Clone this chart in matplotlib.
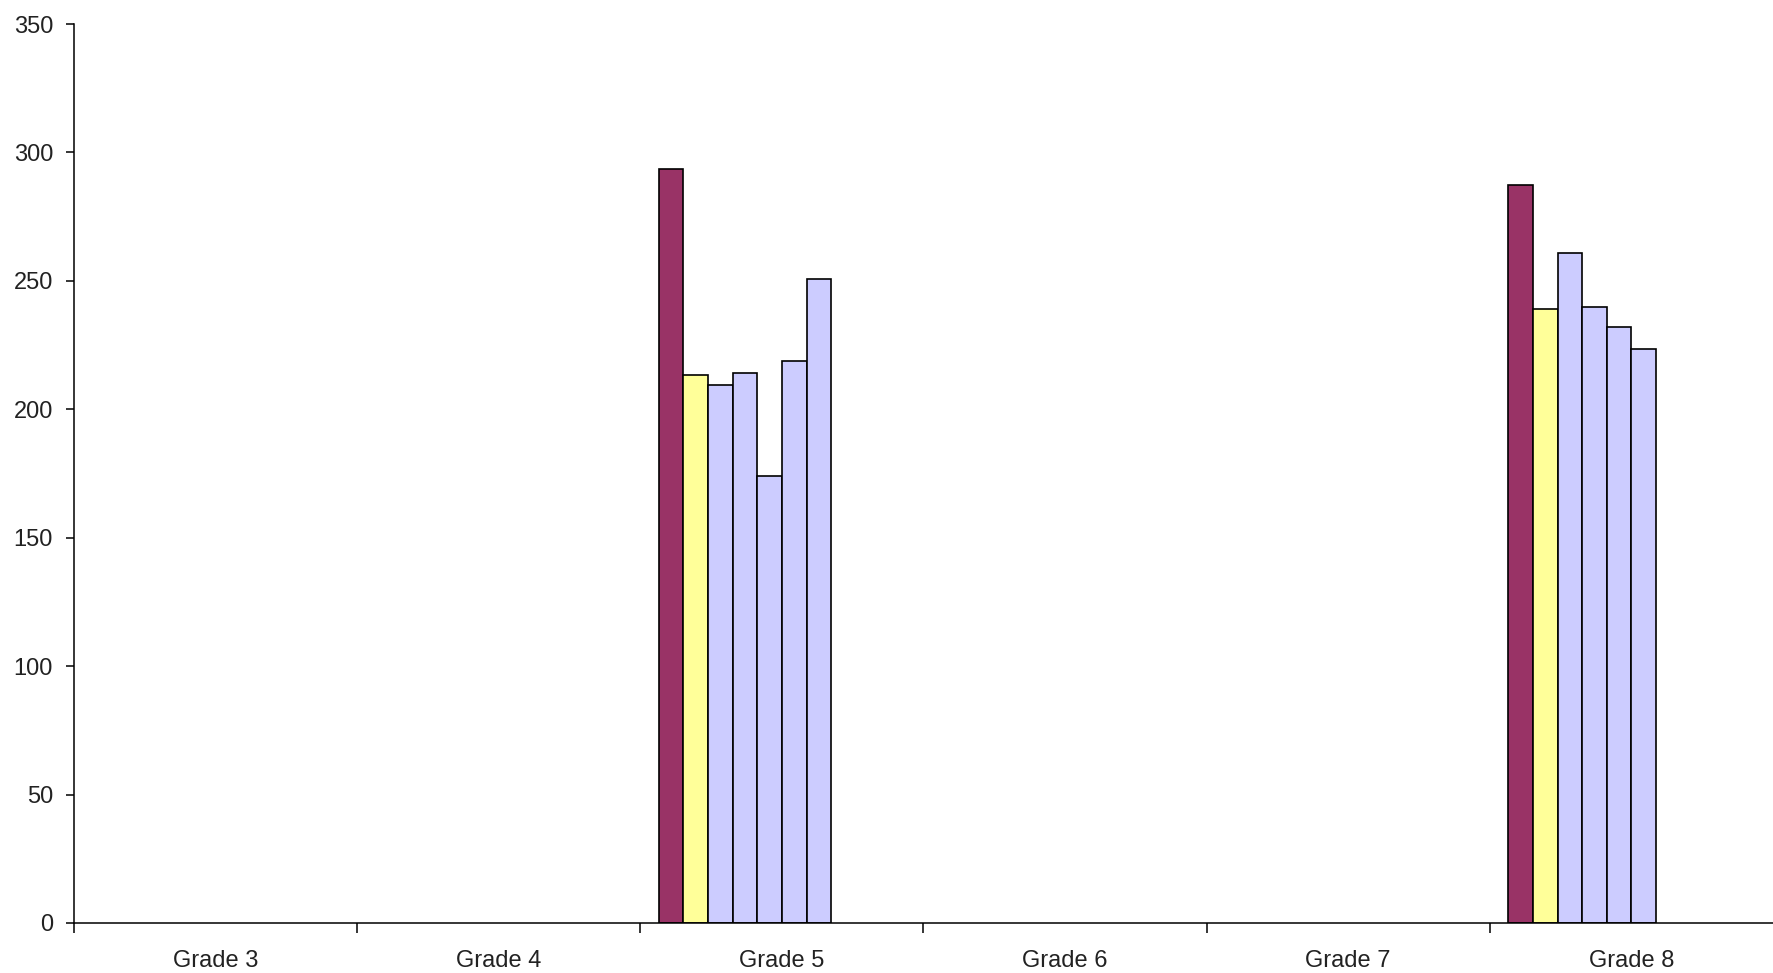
import numpy as np
import matplotlib.pyplot as plt

# data (nan = no bar)
grades = ["Grade 3", "Grade 4", "Grade 5", "Grade 6", "Grade 7", "Grade 8"]
nan = np.nan
series_1 = [nan, nan, 293.4, nan, nan, 287.4]
series_2 = [nan, nan, 213.3, nan, nan, 239.0]
series_3 = [nan, nan, 209.4, nan, nan, 260.8]
series_4 = [nan, nan, 214.2, nan, nan, 239.9]
series_5 = [nan, nan, 174.0, nan, nan, 231.9]
series_6 = [nan, nan, 218.9, nan, nan, 223.4]
series_7 = [nan, nan, 250.7, nan, nan, nan]
series_8 = [nan] * 6
series_9 = [nan] * 6
series_10 = [nan] * 6

all_series = [series_1, series_2, series_3, series_4, series_5,
              series_6, series_7, series_8, series_9, series_10]
colors = ["#993366", "#FFFF99"] + ["#CCCCFF"] * 8

plt.rcParams['font.family'] = ['Liberation Sans', 'DejaVu Sans']

fig = plt.figure(figsize=(17.73, 9.73), dpi=100)
ax = fig.add_axes([0.0417, 0.0514, 0.9583, 0.9239])

x = np.arange(len(grades))
n = len(all_series)
w = 1 / (n + 1.5)  # excel style gap width 150%
for i, vals in enumerate(all_series):
    ax.bar(x + (i - (n - 1) / 2) * w, vals, width=w, color=colors[i],
           edgecolor="black", linewidth=1.2)

ax.set_xlim(-0.5, len(grades) - 0.5)
ax.set_ylim(0, 350)
ax.set_yticks(range(0, 351, 50))

ax.set_xticks(x)
ax.set_xticklabels(grades)
ax.set_xticks(np.arange(-0.5, len(grades) - 0.5, 1), minor=True)
ax.tick_params(axis="x", which="major", length=0, pad=19.5, labelsize=17, labelcolor="#222222")
ax.tick_params(axis="x", which="minor", length=7, width=1.1, direction="out")
ax.tick_params(axis="y", length=6, width=1.1, pad=9, labelsize=17, labelcolor="#222222")

for s in ["top", "right"]:
    ax.spines[s].set_visible(False)
for s in ["left", "bottom"]:
    ax.spines[s].set_linewidth(1.1)

fig.savefig("out.png", dpi=100)
